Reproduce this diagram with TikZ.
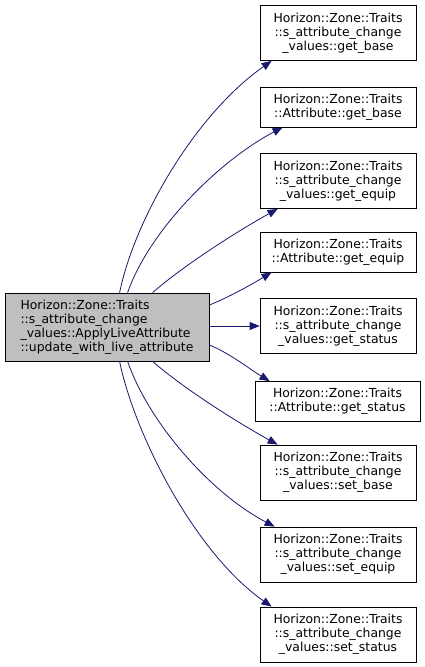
\documentclass[tikz,border=0pt]{standalone}
\usepackage{fontspec}
\setmainfont{DejaVu Sans}
\usepackage{tikz}
\usetikzlibrary{arrows.meta}

\definecolor{edgeblue}{RGB}{25,25,112}

\begin{document}
\begin{tikzpicture}[
  x=1pt, y=-1pt,
  fn/.style={draw, line width=0.8pt, minimum width=156pt, minimum height=55pt, align=center, inner sep=1pt, font=\fontsize{12.4}{14}\selectfont},
  fnshort/.style={fn, minimum height=40pt},
  caller/.style={fn, fill=black!25, minimum width=204pt, minimum height=68pt, align=left},
  arr/.style={-{Triangle[length=10pt, width=8pt]}, edgeblue, line width=0.8pt}
]
\useasboundingbox (0,0) rectangle (425,667);
\node[caller] (main) at (107,327) {Horizon::Zone::Traits\\::s\_attribute\_change\\\_values::ApplyLiveAttribute\\::update\_with\_live\_attribute};
\node[fn] (cgetbase) at (338,33) {Horizon::Zone::Traits\\::s\_attribute\_change\\\_values::get\_base};
\node[fnshort] (agetbase) at (338,107) {Horizon::Zone::Traits\\::Attribute::get\_base};
\node[fn] (cgetequip) at (338,181) {Horizon::Zone::Traits\\::s\_attribute\_change\\\_values::get\_equip};
\node[fnshort] (agetequip) at (338,252) {Horizon::Zone::Traits\\::Attribute::get\_equip};
\node[fn] (cgetstatus) at (338,326) {Horizon::Zone::Traits\\::s\_attribute\_change\\\_values::get\_status};
\node[fnshort, minimum width=165pt] (agetstatus) at (337.5,401.5) {Horizon::Zone::Traits\\::Attribute::get\_status};
\node[fn] (csetbase) at (338,472.5) {Horizon::Zone::Traits\\::s\_attribute\_change\\\_values::set\_base};
\node[fn] (csetequip) at (338,554.5) {Horizon::Zone::Traits\\::s\_attribute\_change\\\_values::set\_equip};
\node[fn] (csetstatus) at (338,634.5) {Horizon::Zone::Traits\\::s\_attribute\_change\\\_values::set\_status};
% calls
\draw[arr] ([xshift=115pt]main.north west) .. controls +(15,-73) and +(-77,54) .. ([xshift=12pt]cgetbase.south west);
\draw[arr] ([xshift=123pt]main.north west) .. controls +(22,-63) and +(-63,33) .. ([xshift=23pt]agetbase.south west);
\draw[arr] ([xshift=148pt]main.north west) .. controls +(32,-28) and +(-38,21) .. ([xshift=18pt]cgetequip.south west);
\draw[arr] ([yshift=22pt]main.east) .. controls +(20,-8) and +(-20,12) .. ([xshift=12pt]agetequip.south west);
\draw[arr] (main.east |- cgetstatus.west) -- (cgetstatus.west);
\draw[arr] ([yshift=-18pt]main.east) .. controls +(20,8) and +(-20,-12) .. ([xshift=15pt]agetstatus.north west);
\draw[arr] ([xshift=148pt]main.south west) .. controls +(32,28) and +(-38,-21) .. ([xshift=18pt]csetbase.north west);
\draw[arr] ([xshift=123pt]main.south west) .. controls +(22,63) and +(-63,-33) .. ([xshift=15pt]csetequip.north west);
\draw[arr] ([xshift=115pt]main.south west) .. controls +(15,73) and +(-77,-54) .. ([xshift=12pt]csetstatus.north west);
\end{tikzpicture}
\end{document}
